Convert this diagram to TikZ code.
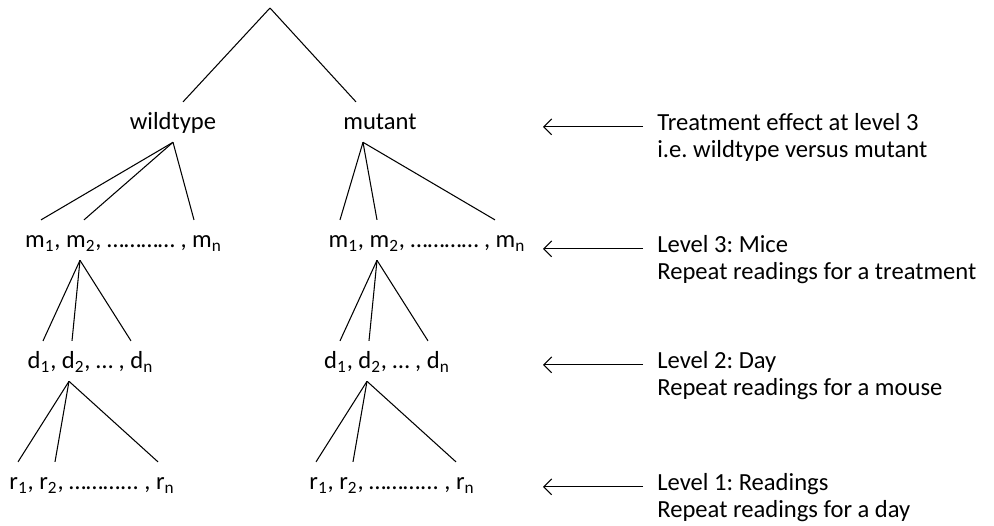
\documentclass[tikz,border=0pt]{standalone}
\usepackage{fontspec}
\setmainfont{Carlito}
\frenchspacing
\usetikzlibrary{arrows.meta,calc,positioning}
\tikzstyle{level} = [inner sep=0pt, outer ysep=5pt, text height=11pt, text depth=2pt, anchor=base, font=\fontsize{14}{17}\selectfont]
\tikzstyle{note} = [inner sep=0pt, text height=11pt, text depth=3.5pt, anchor=base west, font=\fontsize{14}{17}\selectfont]
\tikzstyle{branch} = [line width=0.6pt]
\tikzstyle{arrow} = [line width=0.6pt, -{Straight Barb[length=4.5pt,width=9pt]}]

\begin{document}
\begin{tikzpicture}[x=0.02cm, y=-0.02cm]
\useasboundingbox (0,0) rectangle (994,526);
\coordinate (root) at (270,8);
\coordinate (tip) at (543,0);
% the tree
\node[level] (wild) at (173,130) {wildtype};
\node[level] (mut) at (380,130) {mutant};
\node[level] (wm) at (123.5,248) {m\textsubscript{1}, m\textsubscript{2}, ………… , m\textsubscript{n}};
\node[level] (mm) at (427,248) {m\textsubscript{1}, m\textsubscript{2}, ………… , m\textsubscript{n}};
\node[level] (wd) at (90.5,369) {d\textsubscript{1}, d\textsubscript{2}, … , d\textsubscript{n}};
\node[level] (md) at (387,369) {d\textsubscript{1}, d\textsubscript{2}, … , d\textsubscript{n}};
\node[level] (wr) at (92,490) {r\textsubscript{1}, r\textsubscript{2}, ………... , r\textsubscript{n}};
\node[level] (mr) at (392,490) {r\textsubscript{1}, r\textsubscript{2}, ………... , r\textsubscript{n}};
\draw[branch] (root) -- ($(wild.north)+(10,0)$);
\draw[branch] (root) -- ($(mut.north)+(-24,0)$);
\foreach \dx in {-82.5,-39.5,70.5} \draw[branch] (wild.south) -- ($(wm.north)+(\dx,0)$);
\foreach \dx in {-87,-50,68} \draw[branch] ($(mut.south)+(-17,0)$) -- ($(mm.north)+(\dx,0)$);
\foreach \dx in {-47.5,-18.5,40.5} \draw[branch] ($(wm.south)+(-43.5,0)$) -- ($(wd.north)+(\dx,0)$);
\foreach \dx in {-47,-18,41} \draw[branch] ($(mm.south)+(-50,0)$) -- ($(md.north)+(\dx,0)$);
\foreach \dx in {-74,-37,66} \draw[branch] ($(wd.south)+(-21.5,0)$) -- ($(wr.north)+(\dx,0)$);
\foreach \dx in {-76,-39,64} \draw[branch] ($(md.south)+(-20,0)$) -- ($(mr.north)+(\dx,0)$);
% the levels
\node[note] (trt) at (657,131) {Treatment effect at level 3};
\node[note, anchor=north west] (trt2) at (trt.south west) {i.e. wildtype versus mutant};
\node[note] (lv3) at (657,253) {Level 3: Mice};
\node[note, anchor=north west] (lv3b) at (lv3.south west) {Repeat readings for a treatment};
\node[note] (lv2) at (657,369) {Level 2: Day};
\node[note, anchor=north west] (lv2b) at (lv2.south west) {Repeat readings for a mouse};
\node[note] (lv1) at (657,491) {Level 1: Readings};
\node[note, anchor=north west] (lv1b) at (lv1.south west) {Repeat readings for a day};
\draw[arrow] ([xshift=-0.28cm]trt.mid west) -- (trt.mid west -| tip);
\draw[arrow] ([xshift=-0.28cm]lv3.mid west) -- (lv3.mid west -| tip);
\draw[arrow] ([xshift=-0.28cm]lv2.mid west) -- (lv2.mid west -| tip);
\draw[arrow] ([xshift=-0.28cm]lv1.mid west) -- (lv1.mid west -| tip);
\end{tikzpicture}
\end{document}
